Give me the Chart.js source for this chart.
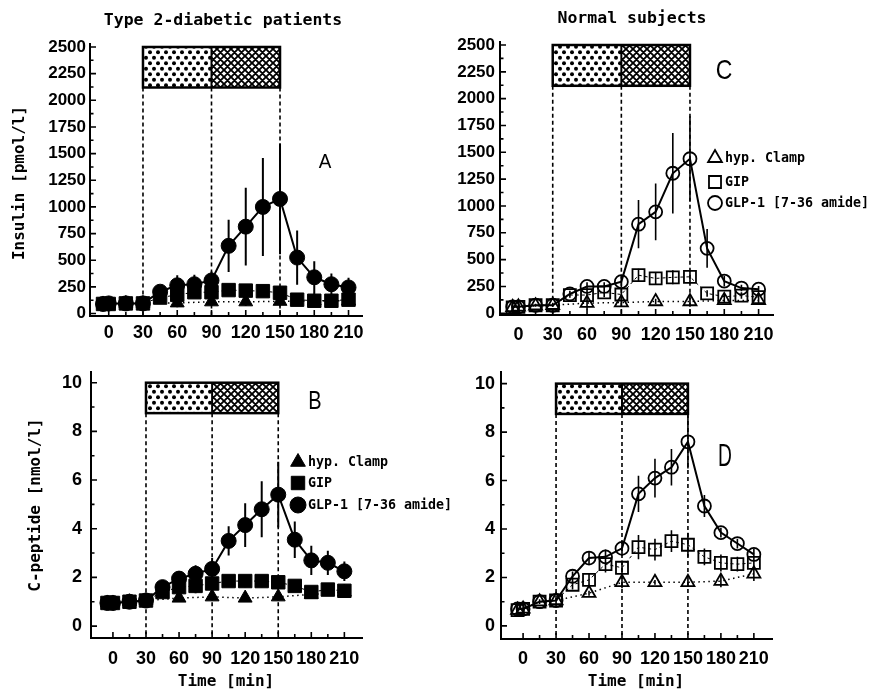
<!DOCTYPE html>
<html>
<head>
<meta charset="utf-8">
<script src="https://cdn.jsdelivr.net/npm/chart.js@4.4.1/dist/chart.umd.min.js"></script>
<style>
  html, body { margin: 0; padding: 0; background: #fff; }
  #wrap { position: relative; width: 871px; height: 693px; overflow: hidden; }
  #wrap canvas { position: absolute; }
</style>
</head>
<body>
<div id="wrap">
  <canvas id="cA"></canvas>
  <canvas id="cC"></canvas>
  <canvas id="cB"></canvas>
  <canvas id="cD"></canvas>
</div>
<script>
// sampling times (min)
const timeMain  = [-5, 0, 15, 30, 45, 60, 75, 90, 105, 120, 135, 150, 165, 180, 195, 210];
const timeClamp = [-5, 0, 15, 30, 60, 90, 120, 150, 180, 210];

// axis ticks
const timeTicks    = [0, 30, 60, 90, 120, 150, 180, 210];
const timeMinor    = [15, 45, 75, 105, 135, 165, 195];
const insulinTicks = [0, 250, 500, 750, 1000, 1250, 1500, 1750, 2000, 2250, 2500];
const insulinMinor = [125, 375, 625, 875, 1125, 1375, 1625, 1875, 2125, 2375];
const cpepTicks    = [0, 2, 4, 6, 8, 10];
const cpepMinor    = [1, 3, 5, 7, 9];
const infusionMarks = [30, 90, 150];

const seriesNames = ["hyp. Clamp", "GIP", "GLP-1 [7-36 amide]"];

// A: insulin, type 2 diabetic patients
const glpA     = [90, 95, 95, 95, 205, 265, 275, 310, 635, 815, 1000, 1075, 525, 340, 275, 245];
const glpAErr  = [20, 20, 20, 20, 35, 95, 90, 85, 245, 365, 460, 520, 255, 150, 100, 90];
const gipA     = [90, 90, 95, 95, 150, 175, 200, 200, 220, 215, 210, 195, 130, 120, 120, 130];
const gipAErr  = [15, 15, 15, 15, 30, 60, 55, 55, 45, 55, 50, 55, 30, 30, 30, 40];
const clampA   = [90, 90, 95, 95, 100, 110, 110, 115, 120, 120];
const clampAErr= [15, 15, 15, 15, 40, 40, 40, 50, 30, 30];

// B: C-peptide, type 2 diabetic patients
const glpB     = [0.95, 0.95, 1.0, 1.05, 1.6, 1.95, 2.15, 2.35, 3.5, 4.15, 4.8, 5.4, 3.55, 2.7, 2.6, 2.25];
const glpBErr  = [0.1, 0.1, 0.1, 0.1, 0.2, 0.3, 0.35, 0.45, 0.6, 0.9, 1.15, 1.35, 0.75, 0.6, 0.5, 0.4];
const gipB     = [0.95, 0.95, 1.0, 1.05, 1.4, 1.6, 1.65, 1.75, 1.85, 1.85, 1.85, 1.8, 1.65, 1.4, 1.5, 1.45];
const gipBErr  = [0.1, 0.1, 0.1, 0.1, 0.15, 0.3, 0.3, 0.35, 0.2, 0.25, 0.25, 0.25, 0.2, 0.2, 0.2, 0.2];
const clampB   = [0.95, 0.95, 1.0, 1.05, 1.15, 1.2, 1.15, 1.2, 1.3, 1.4];
const clampBErr= [0.1, 0.1, 0.1, 0.1, 0.15, 0.15, 0.1, 0.15, 0.15, 0.15];

// C: insulin, normal subjects
const glpC     = [60, 60, 75, 75, 180, 250, 250, 295, 830, 945, 1305, 1440, 605, 300, 235, 225];
const glpCErr  = [15, 15, 15, 15, 30, 40, 40, 50, 225, 265, 375, 395, 180, 50, 30, 30];
const gipC     = [55, 60, 75, 75, 170, 170, 195, 175, 355, 325, 335, 340, 185, 155, 165, 150];
const gipCErr  = [10, 10, 10, 10, 25, 40, 45, 50, 60, 55, 65, 65, 30, 30, 30, 30];
const clampC   = [55, 60, 70, 75, 95, 100, 110, 110, 120, 120];
const clampCErr= [10, 10, 10, 10, 60, 40, 25, 35, 25, 25];

// D: C-peptide, normal subjects
const glpD     = [0.7, 0.7, 1.0, 1.05, 2.05, 2.8, 2.85, 3.2, 5.45, 6.1, 6.55, 7.6, 4.95, 3.85, 3.4, 2.95];
const glpDErr  = [0.1, 0.1, 0.1, 0.1, 0.2, 0.25, 0.3, 0.3, 0.75, 0.8, 0.75, 1.1, 0.45, 0.2, 0.2, 0.25];
const gipD     = [0.65, 0.7, 1.0, 1.05, 1.7, 1.9, 2.55, 2.4, 3.25, 3.15, 3.5, 3.35, 2.85, 2.6, 2.55, 2.6];
const gipDErr  = [0.1, 0.1, 0.1, 0.1, 0.2, 0.25, 0.35, 0.3, 0.5, 0.45, 0.45, 0.5, 0.35, 0.35, 0.3, 0.35];
const clampD   = [0.65, 0.7, 1.0, 1.05, 1.35, 1.8, 1.8, 1.8, 1.85, 2.15];
const clampDErr= [0.1, 0.1, 0.1, 0.1, 0.1, 0.25, 0.1, 0.15, 0.25, 0.3];

const MONO = "'DejaVu Sans Mono', monospace";
const SANS = "'Liberation Sans', Arial, sans-serif";

// layout of each panel (page coords)
const panels = [
  { id: "A", left: 0, top: 0, w: 430, h: 345, area: { l: 90, t: 44, r: 362, b: 316 },
    xr: [-16.4, 221.8], yr: [-23, 2528], yTicks: insulinTicks, yMinor: insulinMinor,
    box: [2120, 2500], filled: true, ySize: 17, yPad: 4, xPad: 6,
    glp: glpA, glpErr: glpAErr, gip: gipA, gipErr: gipAErr, clamp: clampA, clampErr: clampAErr,
    texts: [
      { t: "Type 2-diabetic patients", x: 223, y: 21, font: "bold 16.5px " + MONO },
      { t: "Insulin [pmol/l]", x: 20, y: 183, font: "bold 16px " + MONO, rot: true },
      { t: "A", x: 325, y: 162, font: "21px " + SANS, sx: 0.9 }
    ] },
  { id: "B", left: 0, top: 345, w: 470, h: 348, area: { l: 91, t: 372, r: 362, b: 638 },
    xr: [-19.9, 226], yr: [-0.49, 10.44], yTicks: cpepTicks, yMinor: cpepMinor,
    box: [8.75, 10], filled: true, ySize: 18, yPad: 9, xPad: 10,
    glp: glpB, glpErr: glpBErr, gip: gipB, gipErr: gipBErr, clamp: clampB, clampErr: clampBErr,
    texts: [
      { t: "C-peptide [nmol/l]", x: 36, y: 505, font: "bold 16px " + MONO, rot: true },
      { t: "Time [min]", x: 226, y: 682, font: "bold 16px " + MONO },
      { t: "B", x: 315, y: 402, font: "25px " + SANS, sx: 0.8 }
    ],
    legend: { x: 298, y: [462, 483, 505], tx: 308 } },
  { id: "C", left: 430, top: 0, w: 441, h: 345, area: { l: 500, t: 42, r: 773, b: 315 },
    xr: [-16.1, 222.6], yr: [-16, 2528], yTicks: insulinTicks, yMinor: insulinMinor,
    box: [2120, 2500], filled: false, ySize: 17, yPad: 5, xPad: 9,
    glp: glpC, glpErr: glpCErr, gip: gipC, gipErr: gipCErr, clamp: clampC, clampErr: clampCErr,
    texts: [
      { t: "Normal subjects", x: 632, y: 19, font: "bold 16.5px " + MONO },
      { t: "C", x: 724, y: 71, font: "28px " + SANS, sx: 0.82 }
    ],
    legend: { x: 715, y: [158, 182, 203], tx: 725 } },
  { id: "D", left: 430, top: 345, w: 441, h: 348, area: { l: 501, t: 372, r: 772, b: 639 },
    xr: [-20.1, 226.5], yr: [-0.54, 10.48], yTicks: cpepTicks, yMinor: cpepMinor,
    box: [8.75, 10], filled: false, ySize: 18, yPad: 6, xPad: 9,
    glp: glpD, glpErr: glpDErr, gip: gipD, gipErr: gipDErr, clamp: clampD, clampErr: clampDErr,
    texts: [
      { t: "Time [min]", x: 636, y: 682, font: "bold 16px " + MONO },
      { t: "D", x: 725, y: 457, font: "31px " + SANS, sx: 0.62 }
    ] }
];

// fill patterns for the infusion bars
function makeDots() {
  const c = document.createElement("canvas");
  c.width = 8; c.height = 11;
  const g = c.getContext("2d");
  g.fillStyle = "#fff"; g.fillRect(0, 0, 8, 11);
  g.fillStyle = "#000";
  [[2, 2.75], [6, 8.25]].forEach(([x, y]) => { g.beginPath(); g.arc(x, y, 2, 0, Math.PI * 2); g.fill(); });
  return c;
}
function makeHatch() {
  const c = document.createElement("canvas");
  c.width = 7; c.height = 7;
  const g = c.getContext("2d");
  g.fillStyle = "#fff"; g.fillRect(0, 0, 7, 7);
  g.strokeStyle = "#000"; g.lineWidth = 1.9;
  g.beginPath();
  for (let o = -7; o <= 7; o += 7) {
    g.moveTo(o, 0); g.lineTo(o + 7, 7);
    g.moveTo(o + 7, 0); g.lineTo(o, 7);
  }
  g.stroke();
  return c;
}
const dotTile = makeDots();
const hatchTile = makeHatch();

function markerSize(p) {
  return p.filled ? { circle: 7.5, rect: 9.5, triangle: 8 } : { circle: 6.5, rect: 8.5, triangle: 7.5 };
}

function makeDecor(p) {
  const ox = p.left, oy = p.top;
  return {
    id: "decor" + p.id,
    beforeDatasetsDraw(chart) {
      const { ctx, chartArea: ca, scales: { x, y } } = chart;
      const xa = x.getPixelForValue(infusionMarks[0]);
      const xb = x.getPixelForValue(infusionMarks[1]);
      const xc = x.getPixelForValue(infusionMarks[2]);
      const yT = y.getPixelForValue(p.box[1]);
      const yB = y.getPixelForValue(p.box[0]);
      ctx.save();
      ctx.fillStyle = ctx.createPattern(dotTile, "repeat");
      ctx.fillRect(xa, yT, xb - xa, yB - yT);
      ctx.fillStyle = ctx.createPattern(hatchTile, "repeat");
      ctx.fillRect(xb, yT, xc - xb, yB - yT);
      ctx.strokeStyle = "#000";
      ctx.lineWidth = 2.5;
      ctx.strokeRect(xa, yT, xc - xa, yB - yT);
      ctx.lineWidth = 2;
      ctx.beginPath(); ctx.moveTo(xb, yT); ctx.lineTo(xb, yB); ctx.stroke();

      // dashed drop lines
      ctx.setLineDash([4, 3]);
      ctx.lineWidth = 1.6;
      ctx.beginPath();
      infusionMarks.forEach(m => {
        const px = x.getPixelForValue(m);
        ctx.moveTo(px, yB); ctx.lineTo(px, ca.bottom);
      });
      ctx.stroke();
      ctx.setLineDash([]);

      // error bars (mean +/- SEM)
      ctx.lineWidth = p.filled ? 2 : 1.6;
      ctx.beginPath();
      [[timeMain, p.glp, p.glpErr], [timeMain, p.gip, p.gipErr], [timeClamp, p.clamp, p.clampErr]]
        .forEach(([t, v, e]) => v.forEach((val, i) => {
          const px = x.getPixelForValue(t[i]);
          ctx.moveTo(px, y.getPixelForValue(val - e[i]));
          ctx.lineTo(px, y.getPixelForValue(val + e[i]));
        }));
      ctx.stroke();
      ctx.restore();
    },
    afterDraw(chart) {
      const { ctx, chartArea: ca, scales: { x, y } } = chart;
      ctx.save();
      ctx.strokeStyle = "#000";
      ctx.lineWidth = 1.6;
      ctx.beginPath();
      // inward tick marks
      p.yTicks.forEach(v => { const py = y.getPixelForValue(v); ctx.moveTo(ca.left, py); ctx.lineTo(ca.left + 6, py); });
      p.yMinor.forEach(v => { const py = y.getPixelForValue(v); ctx.moveTo(ca.left, py); ctx.lineTo(ca.left + 3.5, py); });
      timeTicks.forEach(v => { const px = x.getPixelForValue(v); ctx.moveTo(px, ca.bottom); ctx.lineTo(px, ca.bottom - 6); });
      timeMinor.forEach(v => { const px = x.getPixelForValue(v); ctx.moveTo(px, ca.bottom); ctx.lineTo(px, ca.bottom - 4); });
      ctx.stroke();

      // texts
      ctx.fillStyle = "#000";
      ctx.textAlign = "center";
      ctx.textBaseline = "middle";
      p.texts.forEach(tx => {
        ctx.font = tx.font;
        ctx.save();
        ctx.translate(tx.x - ox, tx.y - oy);
        if (tx.rot) ctx.rotate(-Math.PI / 2);
        if (tx.sx) ctx.scale(tx.sx, 1);
        ctx.fillText(tx.t, 0, 0);
        ctx.restore();
      });

      // legend
      if (p.legend) {
        const sz = markerSize(p);
        const styles = ["triangle", "rect", "circle"];
        const sizes = [sz.triangle + 0.5, sz.rect, sz.circle + 0.5];
        ctx.font = "bold 13.3px " + MONO;
        ctx.textAlign = "left";
        styles.forEach((st, i) => {
          ctx.fillStyle = p.filled ? "#000" : "rgba(0,0,0,0)";
          ctx.strokeStyle = "#000";
          ctx.lineWidth = p.filled ? 1 : 1.8;
          Chart.helpers.drawPoint(ctx, { pointStyle: st, radius: sizes[i], rotation: 0, borderWidth: ctx.lineWidth },
            p.legend.x - ox, p.legend.y[i] - oy);
          ctx.fillStyle = "#000";
          ctx.fillText(seriesNames[i], p.legend.tx - ox, p.legend.y[i] - oy + 1);
        });
      }
      ctx.restore();
    }
  };
}

function pts(t, v) { return v.map((val, i) => ({ x: t[i], y: val })); }

panels.forEach(p => {
  const cv = document.getElementById("c" + p.id);
  cv.width = p.w; cv.height = p.h;
  cv.style.left = p.left + "px"; cv.style.top = p.top + "px";
  const Wy = p.area.l - p.left - 5;
  const Hx = 28;
  const sz = markerSize(p);
  const fill = p.filled ? "#000" : "rgba(0,0,0,0)";
  const pw = p.filled ? 1 : 1.8;

  new Chart(cv.getContext("2d"), {
    type: "line",
    data: {
      datasets: [
        { label: seriesNames[2], data: pts(timeMain, p.glp), borderColor: "#000", borderWidth: 2,
          pointStyle: "circle", pointRadius: sz.circle, pointBackgroundColor: fill,
          pointBorderColor: "#000", pointBorderWidth: pw, tension: 0 },
        { label: seriesNames[1], data: pts(timeMain, p.gip), borderColor: "#000", borderWidth: 1,
          borderDash: [3, 3], pointStyle: "rect", pointRadius: sz.rect, pointBackgroundColor: fill,
          pointBorderColor: "#000", pointBorderWidth: pw, tension: 0 },
        { label: seriesNames[0], data: pts(timeClamp, p.clamp), borderColor: "#000", borderWidth: 1.5,
          borderDash: [1.5, 3.5], pointStyle: "triangle", pointRadius: sz.triangle, pointBackgroundColor: fill,
          pointBorderColor: "#000", pointBorderWidth: pw, tension: 0 }
      ]
    },
    options: {
      responsive: false,
      animation: false,
      events: [],
      devicePixelRatio: 1,
      layout: {
        autoPadding: false,
        padding: { left: 5, top: p.area.t - p.top, right: p.left + p.w - p.area.r, bottom: p.top + p.h - p.area.b - Hx }
      },
      plugins: { legend: { display: false }, tooltip: { enabled: false } },
      scales: {
        x: {
          type: "linear", min: p.xr[0], max: p.xr[1],
          grid: { display: false, drawTicks: false },
          border: { display: true, color: "#000", width: 2 },
          afterBuildTicks: s => { s.ticks = timeTicks.map(v => ({ value: v })); },
          afterFit: s => { s.height = Hx; },
          ticks: { autoSkip: false, maxRotation: 0, padding: p.xPad, color: "#000",
                   callback: v => String(v),
                   font: { family: SANS, size: 18, weight: "bold" } }
        },
        y: {
          type: "linear", min: p.yr[0], max: p.yr[1],
          grid: { display: false, drawTicks: false },
          border: { display: true, color: "#000", width: 2 },
          afterBuildTicks: s => { s.ticks = p.yTicks.map(v => ({ value: v })); },
          afterFit: s => { s.width = Wy; },
          ticks: { autoSkip: false, padding: p.yPad, color: "#000",
                   callback: v => String(v),
                   font: { family: SANS, size: p.ySize, weight: "bold" } }
        }
      }
    },
    plugins: [makeDecor(p)]
  });
});
</script>
</body>
</html>
